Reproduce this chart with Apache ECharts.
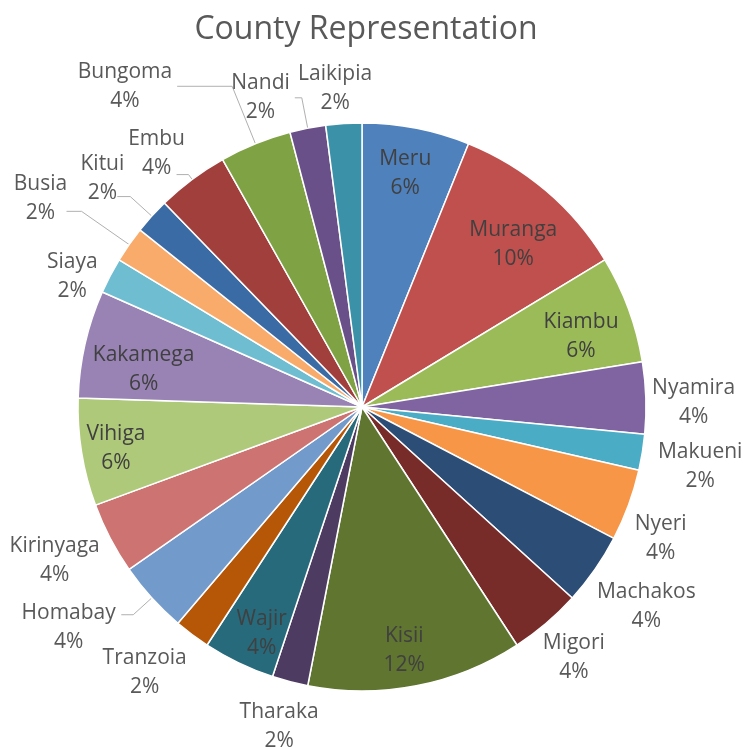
<!DOCTYPE html>
<html><head><meta charset="utf-8">
<script src="https://cdn.jsdelivr.net/npm/echarts@6/dist/echarts.min.js"></script>
<style>html,body{margin:0;padding:0;background:#fff}#c{width:745px;height:749px}</style>
</head><body><div id="c"></div>
<script>
// ---- data ----
const counties = ['Meru','Muranga','Kiambu','Nyamira','Makueni','Nyeri','Machakos','Migori','Kisii','Tharaka','Wajir','Tranzoia','Homabay','Kirinyaga','Vihiga','Kakamega','Siaya','Busia','Kitui','Embu','Bungoma','Nandi','Laikipia'];
const counts = [3,5,3,2,1,2,2,2,6,1,2,1,2,2,3,3,1,1,1,2,2,1,1];
const colors = ['#4F81BD','#C0504D','#9BBB59','#8064A2','#4BACC6','#F79646','#2C4D75','#772C2A','#5F7530','#4D3B62','#276A7C','#B65708','#729ACA','#CD7371','#AFC97A','#9983B5','#6FBDD1','#F9AB6B','#3A6BA5','#A03F3C','#7FA244','#6A5089','#3B92A8'];
const titleText = 'County Representation';

// ---- layout / style ----
const CX = 362, CY = 407, R = 284;
const FONT = 'Open Sans';
const FS = 21, LH = 29;
const TOTAL = counts.reduce((a, b) => a + b, 0);
function fmt(p) { return '{c|' + p.name + '}\n{c|' + Math.round(p.value / TOTAL * 100) + '%}'; }

const labelGroups = [
  { m: 0.80, names: ['Muranga', 'Kiambu', 'Kakamega'], color: '#404040' },
  { m: 0.86, names: ['Meru', 'Kisii', 'Wajir', 'Vihiga'], color: '#404040' },
  { m: 1.14, names: ['Nyamira', 'Nyeri', 'Migori', 'Tharaka', 'Siaya', 'Embu', 'Laikipia'], color: '#595959' },
  { m: 1.21, names: ['Makueni', 'Machakos', 'Tranzoia', 'Kirinyaga', 'Kitui'], color: '#595959' },
  { m: 1.28, names: ['Homabay'], color: '#595959' },
  { m: 1.37, names: ['Busia'], color: '#595959' }
];
const baseShift = [0, 5];
const nudges = {
  Meru: [-4, 4], Muranga: [2, 8], Kiambu: [3, 4], Kakamega: [6, 9], Vihiga: [-2, -3], Kisii: [-5, -4], Wajir: [7, -1],
  Nyamira: [5, 1], Makueni: [-4, -1], Nyeri: [-8, 14], Machakos: [0, -4], Migori: [0, -3], Tharaka: [0, -2],
  Tranzoia: [-10, -17], Homabay: [-22, -31], Kirinyaga: [0, -12], Siaya: [0, 16], Busia: [0, 11], Kitui: [-3, 0],
  Embu: [-10, 3], Laikipia: [-6, 3]
};
const leaderLines = {
  Bungoma: { length: 62, length2: 55, text: true },
  Nandi: { length: 31, length2: 7, text: true },
  Embu: { length: 6, length2: 12 },
  Kitui: { length: 29, length2: 13 },
  Busia: { length: 58, length2: 15 },
  Homabay: { length: 25, length2: 12 }
};

const rich = { c: { align: 'center', fontSize: FS, lineHeight: LH, fontFamily: FONT } };

const mainSeries = {
  type: 'pie', center: [CX, CY], radius: [0, R], startAngle: 90, clockwise: true,
  avoidLabelOverlap: false, emphasis: { disabled: true },
  itemStyle: { borderColor: '#fff', borderWidth: 1.5 },
  label: { show: false, position: 'outside', formatter: fmt, rich: rich, fontSize: FS, fontFamily: FONT, color: '#595959', lineHeight: LH },
  labelLine: { show: false, lineStyle: { color: '#B0B0B0', width: 1 } },
  data: counties.map((n, i) => {
    const item = { name: n, value: counts[i], itemStyle: { color: colors[i] } };
    const ll = leaderLines[n];
    if (ll) {
      item.label = { show: true, color: ll.text ? '#595959' : 'rgba(0,0,0,0)' };
      item.labelLine = { show: true, length: ll.length, length2: ll.length2 };
    }
    return item;
  })
};

const ringSeries = labelGroups.map(g => ({
  type: 'pie', center: [CX, CY], radius: [g.m * R - 8, g.m * R + 8], startAngle: 90, clockwise: true,
  silent: true, avoidLabelOverlap: false, emphasis: { disabled: true }, z: 5,
  itemStyle: { color: 'rgba(0,0,0,0)', borderWidth: 0 },
  label: { show: false, position: 'inside', formatter: fmt, rich: rich, fontSize: FS, fontFamily: FONT, color: g.color, lineHeight: LH },
  labelLine: { show: false },
  labelLayout: function (p) {
    const d = nudges[counties[p.dataIndex]] || [0, 0];
    return { dx: baseShift[0] + d[0], dy: baseShift[1] + d[1] };
  },
  data: counties.map((n, i) => ({ name: n, value: counts[i], label: { show: g.names.indexOf(n) >= 0 } }))
}));

const chart = echarts.init(document.getElementById('c'));
chart.setOption({
  animation: false,
  backgroundColor: '#fff',
  title: { text: titleText, left: 361, top: 9, textAlign: 'center', textStyle: { fontFamily: FONT, fontSize: 32, fontWeight: 'normal', color: '#595959' } },
  series: [mainSeries].concat(ringSeries)
});
</script>
</body></html>
